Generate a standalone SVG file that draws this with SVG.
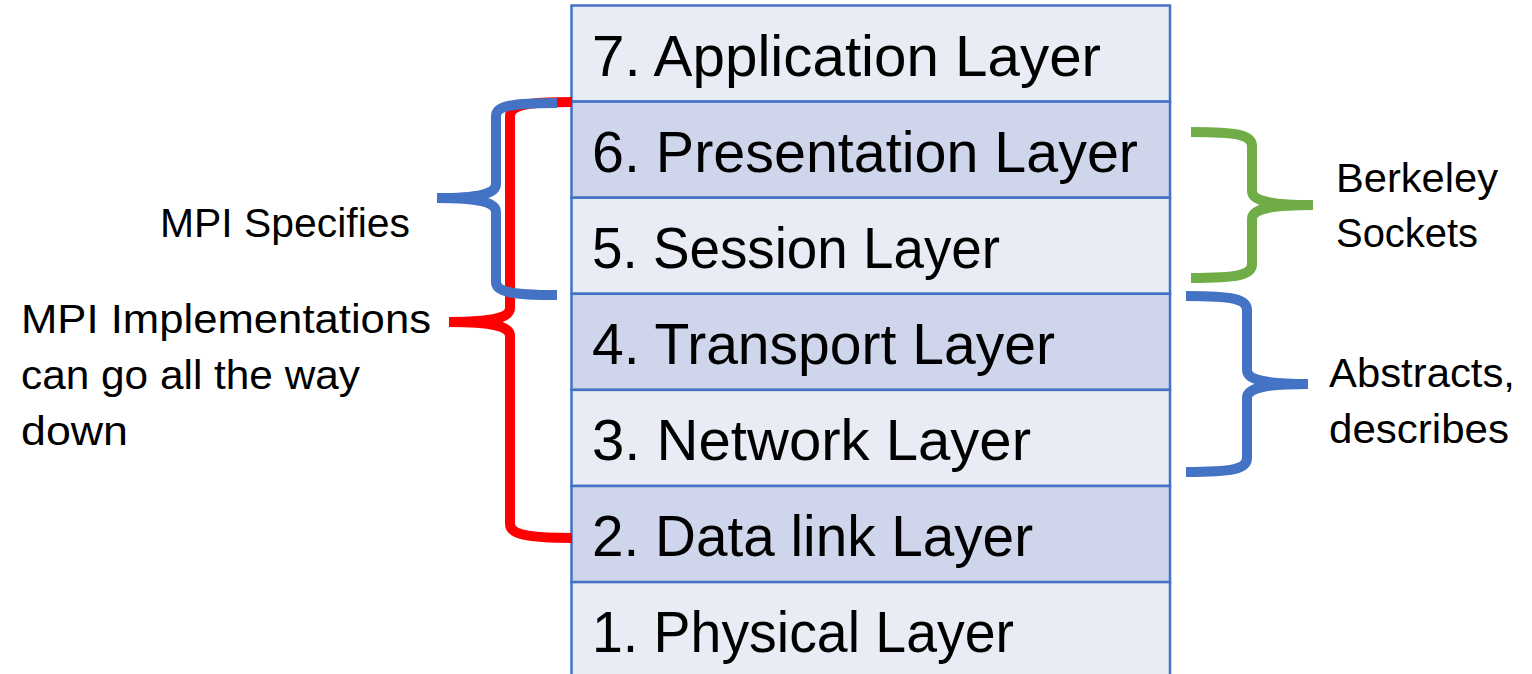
<svg xmlns="http://www.w3.org/2000/svg" width="1532" height="674" viewBox="0 0 1532 674">
  <style>
    .row-a { fill: #E9EBF5; stroke: #4472C4; stroke-width: 2.5; }
    .row-b { fill: #CFD5EA; stroke: #4472C4; stroke-width: 2.5; }
    .layer { font-family: "Liberation Sans", Arial, sans-serif; font-size: 58px; fill: #000; }
    .note { font-family: "Liberation Sans", Arial, sans-serif; font-size: 41px; fill: #000; }
    .brace { fill: none; stroke-width: 10; stroke-linecap: butt; stroke-linejoin: round; }
    .blue { stroke: #4472C4; }
    .red { stroke: #FF0000; }
    .green { stroke: #70AD47; }
  </style>

  <!-- OSI layer stack -->
  <g id="layer7">
    <rect class="row-a" x="571.5" y="5.5" width="598.5" height="96.1"/>
    <text class="layer" x="592" y="76" textLength="509" lengthAdjust="spacingAndGlyphs">7. Application Layer</text>
  </g>
  <g id="layer6">
    <rect class="row-b" x="571.5" y="101.6" width="598.5" height="96.1"/>
    <text class="layer" x="592" y="172" textLength="546" lengthAdjust="spacingAndGlyphs">6. Presentation Layer</text>
  </g>
  <g id="layer5">
    <rect class="row-a" x="571.5" y="197.7" width="598.5" height="96.1"/>
    <text class="layer" x="592" y="268" textLength="408" lengthAdjust="spacingAndGlyphs">5. Session Layer</text>
  </g>
  <g id="layer4">
    <rect class="row-b" x="571.5" y="293.8" width="598.5" height="96.1"/>
    <text class="layer" x="592" y="364" textLength="463" lengthAdjust="spacingAndGlyphs">4. Transport Layer</text>
  </g>
  <g id="layer3">
    <rect class="row-a" x="571.5" y="389.9" width="598.5" height="96.1"/>
    <text class="layer" x="592" y="460" textLength="439" lengthAdjust="spacingAndGlyphs">3. Network Layer</text>
  </g>
  <g id="layer2">
    <rect class="row-b" x="571.5" y="486" width="598.5" height="96.1"/>
    <text class="layer" x="592" y="556" textLength="441" lengthAdjust="spacingAndGlyphs">2. Data link Layer</text>
  </g>
  <g id="layer1">
    <rect class="row-a" x="571.5" y="582.1" width="598.5" height="100"/>
    <text class="layer" x="592" y="652" textLength="422" lengthAdjust="spacingAndGlyphs">1. Physical Layer</text>
  </g>

  <!-- braces -->
  <g id="connectors">
    <!-- MPI implementations: layers 6 down to 2 -->
    <path class="brace red" d="M572,102 C526,102 510,105 510,116 L510,308 C510,318 492,322 449,322"/>
    <path class="brace red" d="M449,322 C492,322 510,326 510,336 L510,524 C510,534 526,538 572,538"/>
    <!-- MPI specifies: layers 6 and 5 -->
    <path class="brace blue" d="M557,103 C512,103 496,106 496,116 L496,184 C496,194 478,198 437,198"/>
    <path class="brace blue" d="M437,198 C478,198 496,202 496,212 L496,282 C496,292 512,295 557,295"/>
    <!-- Berkeley sockets: layers 6 and 5 -->
    <path class="brace green" d="M1191,132 C1238,132 1252,135 1252,146 L1252,191 C1252,201 1270,205 1313,205"/>
    <path class="brace green" d="M1313,205 C1270,205 1252,209 1252,219 L1252,264 C1252,275 1238,278 1191,278"/>
    <!-- abstracts: layers 4 and 3 -->
    <path class="brace blue" d="M1186,296 C1233,296 1247,299 1247,310 L1247,370 C1247,380 1265,384 1308,384"/>
    <path class="brace blue" d="M1308,384 C1265,384 1247,388 1247,398 L1247,458 C1247,469 1233,472 1186,472"/>
  </g>

  <!-- labels -->
  <g id="label-mpi-specifies">
    <text class="note" x="160" y="237" textLength="250" lengthAdjust="spacingAndGlyphs">MPI Specifies</text>
  </g>
  <g id="label-mpi-implementations">
    <text class="note" x="21" y="333" textLength="410" lengthAdjust="spacingAndGlyphs">MPI Implementations</text>
    <text class="note" x="21" y="389" textLength="339" lengthAdjust="spacingAndGlyphs">can go all the way</text>
    <text class="note" x="21" y="445" textLength="107" lengthAdjust="spacingAndGlyphs">down</text>
  </g>
  <g id="label-berkeley">
    <text class="note" x="1336" y="192" textLength="162" lengthAdjust="spacingAndGlyphs">Berkeley</text>
    <text class="note" x="1336" y="247" textLength="142" lengthAdjust="spacingAndGlyphs">Sockets</text>
  </g>
  <g id="label-abstracts">
    <text class="note" x="1329" y="387" textLength="186" lengthAdjust="spacingAndGlyphs">Abstracts,</text>
    <text class="note" x="1329" y="443" textLength="180" lengthAdjust="spacingAndGlyphs">describes</text>
  </g>
</svg>
